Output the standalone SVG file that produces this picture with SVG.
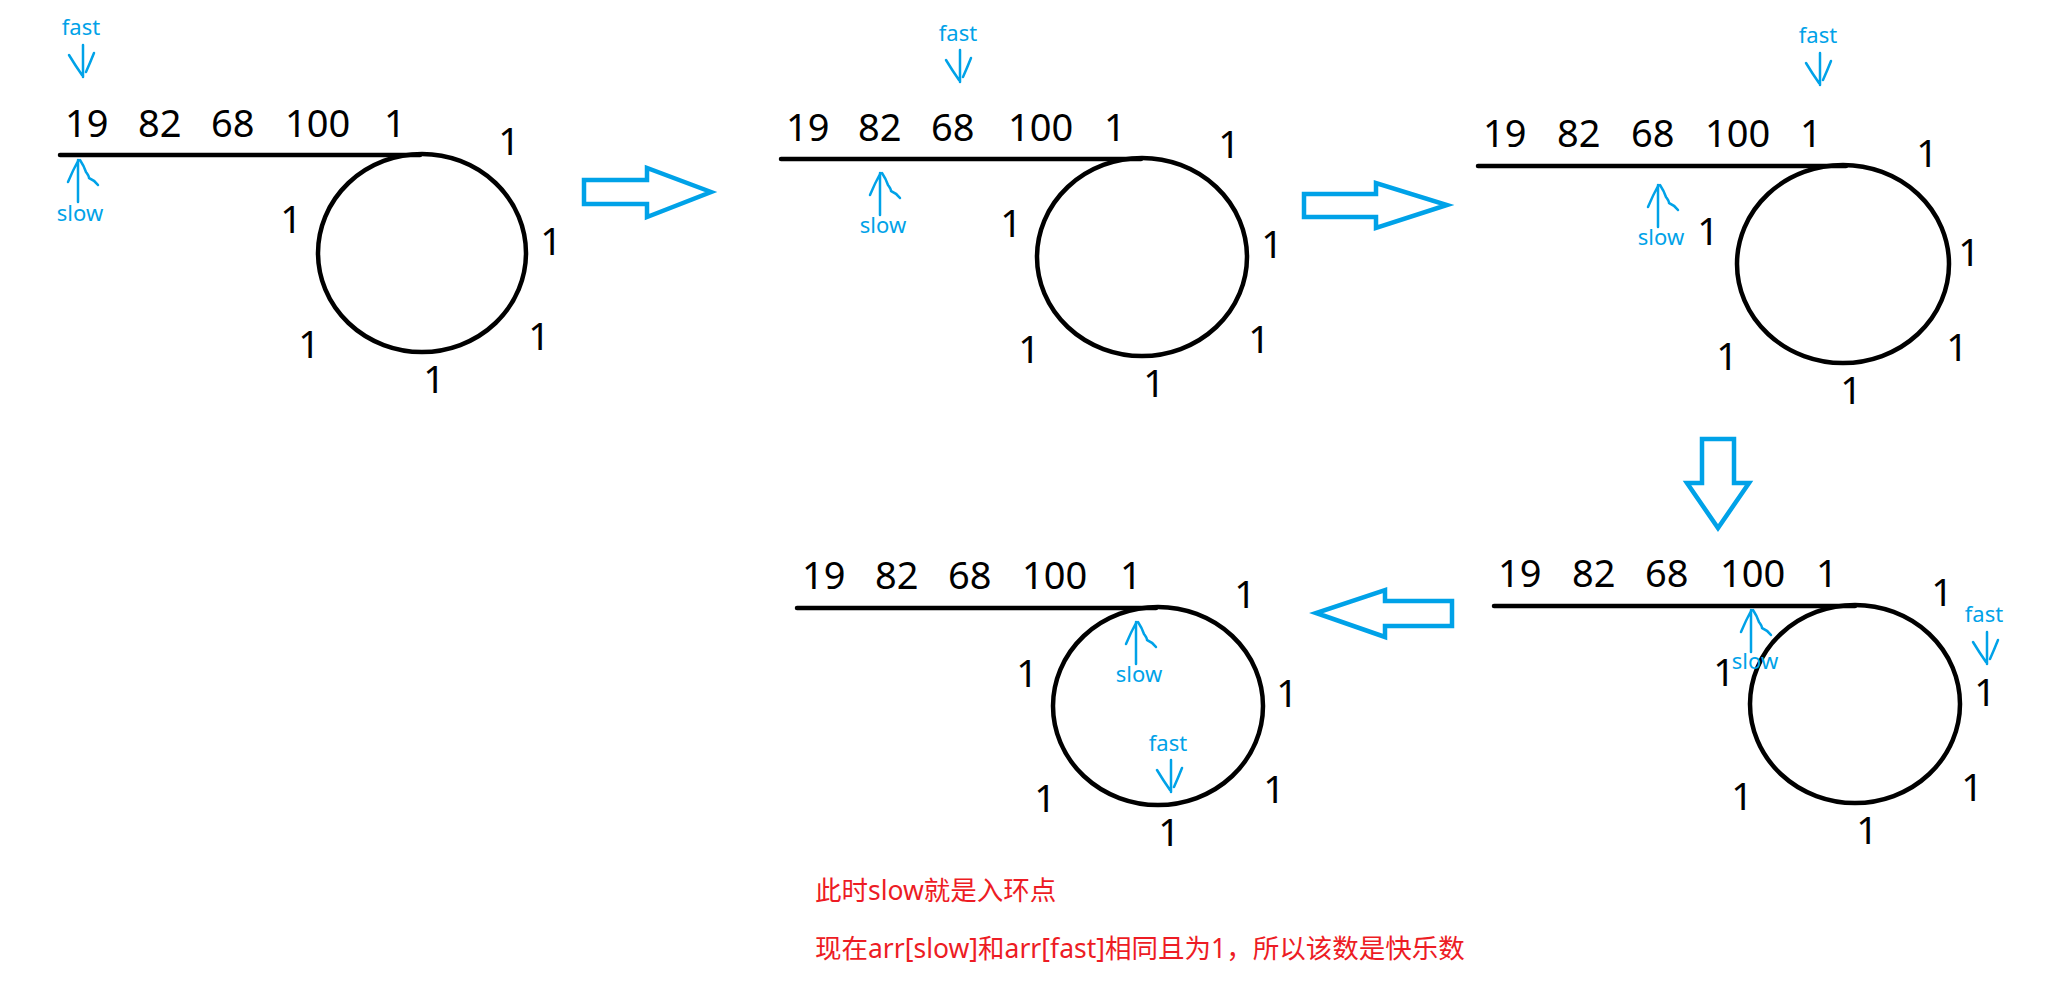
<svg xmlns="http://www.w3.org/2000/svg" width="2048" height="981" viewBox="0 0 2048 981">
<style>
.num{font-family:"Noto Sans","Open Sans","Liberation Sans",sans-serif;font-size:38px;fill:#000}
.one{font-family:"Noto Sans","Open Sans","Liberation Sans",sans-serif;font-size:38px;fill:#000;text-anchor:middle}
.lbl{font-family:"Noto Sans","Open Sans","Liberation Sans",sans-serif;font-size:22px;fill:#00A2E8;text-anchor:middle}
.red{font-family:"Noto Sans","Noto Sans CJK SC",sans-serif;font-size:26.5px;fill:#ED1C24}
.track{stroke:#000;stroke-width:4.5;stroke-linecap:round;fill:none}
.loop{stroke:#000;stroke-width:4.5;fill:none}
.ptr{stroke:#00A2E8;stroke-width:2.5;fill:none;stroke-linecap:round;stroke-linejoin:round}
.blk{stroke:#00A2E8;stroke-width:4.5;fill:none;stroke-linejoin:miter}
</style>
<defs>
<path id="fastArrow" class="ptr" d="M0,0 L0,32 M-14,10 Q-8,20 -1,30 M11,8 Q7,18 3,27"/>
<path id="slowArrow" class="ptr" d="M0,42 L0,0 M-10,22 Q-5,10 0,1 M2,0 Q6,6 8,12 Q11,16 11,18 Q16,20 20,25"/>
</defs>
<rect width="2048" height="981" fill="#fff"/>

<g id="connectors">
<polygon class="blk" points="584,180 647,180 647,168 711,192 647,217 647,204 584,204"/>
<polygon class="blk" points="1304,194 1376,194 1376,183 1447,205 1376,228 1376,217 1304,217"/>
<polygon class="blk" points="1702,439 1734,439 1734,483 1749,483 1718,528 1687,483 1702,483"/>
<polygon class="blk" points="1452,601 1385,601 1385,590 1316,613 1385,637 1385,626 1452,626"/>
</g>

<g id="panel1">
<line class="track" x1="60" y1="155" x2="420" y2="155"/>
<ellipse class="loop" cx="422" cy="253" rx="104" ry="99"/>
<text class="num" x="65" y="137">19</text>
<text class="num" x="138" y="137">82</text>
<text class="num" x="211" y="137">68</text>
<text class="num" x="285" y="137">100</text>
<text class="num" x="384" y="137">1</text>
<text class="one" x="509" y="155">1</text>
<text class="one" x="291" y="233">1</text>
<text class="one" x="551" y="255">1</text>
<text class="one" x="309" y="358">1</text>
<text class="one" x="539" y="350">1</text>
<text class="one" x="434" y="393">1</text>
<text class="lbl" x="81" y="35">fast</text>
<use href="#fastArrow" x="83" y="45"/>
<use href="#slowArrow" x="78" y="160"/>
<text class="lbl" x="80" y="221">slow</text>
</g>

<g id="panel2">
<line class="track" x1="781" y1="159" x2="1141" y2="159"/>
<ellipse class="loop" cx="1142" cy="257" rx="105" ry="99"/>
<text class="num" x="786" y="141">19</text>
<text class="num" x="858" y="141">82</text>
<text class="num" x="931" y="141">68</text>
<text class="num" x="1008" y="141">100</text>
<text class="num" x="1104" y="141">1</text>
<text class="one" x="1229" y="158">1</text>
<text class="one" x="1011" y="237">1</text>
<text class="one" x="1272" y="258">1</text>
<text class="one" x="1029" y="363">1</text>
<text class="one" x="1259" y="353">1</text>
<text class="one" x="1154" y="397">1</text>
<text class="lbl" x="958" y="41">fast</text>
<use href="#fastArrow" x="960" y="50"/>
<use href="#slowArrow" x="880" y="173"/>
<text class="lbl" x="883" y="233">slow</text>
</g>

<g id="panel3">
<line class="track" x1="1478" y1="166" x2="1846" y2="166"/>
<ellipse class="loop" cx="1843" cy="264" rx="106" ry="99"/>
<text class="num" x="1483" y="147">19</text>
<text class="num" x="1557" y="147">82</text>
<text class="num" x="1631" y="147">68</text>
<text class="num" x="1705" y="147">100</text>
<text class="num" x="1800" y="147">1</text>
<text class="one" x="1927" y="167">1</text>
<text class="one" x="1708" y="245">1</text>
<text class="one" x="1969" y="266">1</text>
<text class="one" x="1727" y="370">1</text>
<text class="one" x="1957" y="361">1</text>
<text class="one" x="1851" y="404">1</text>
<text class="lbl" x="1818" y="43">fast</text>
<use href="#fastArrow" x="1820" y="53"/>
<use href="#slowArrow" x="1658" y="185"/>
<text class="lbl" x="1661" y="245">slow</text>
</g>

<g id="panel4">
<line class="track" x1="1494" y1="606" x2="1855" y2="606"/>
<ellipse class="loop" cx="1855" cy="704" rx="105" ry="99"/>
<text class="num" x="1498" y="587">19</text>
<text class="num" x="1572" y="587">82</text>
<text class="num" x="1645" y="587">68</text>
<text class="num" x="1720" y="587">100</text>
<text class="num" x="1816" y="587">1</text>
<text class="one" x="1942" y="606">1</text>
<text class="one" x="1724" y="686">1</text>
<text class="one" x="1985" y="706">1</text>
<text class="one" x="1742" y="810">1</text>
<text class="one" x="1972" y="801">1</text>
<text class="one" x="1867" y="844">1</text>
<use href="#slowArrow" x="1751" y="610"/>
<text class="lbl" x="1755" y="669">slow</text>
<text class="lbl" x="1984" y="622">fast</text>
<use href="#fastArrow" x="1987" y="632"/>
</g>

<g id="panel5">
<line class="track" x1="797" y1="608" x2="1156" y2="608"/>
<ellipse class="loop" cx="1158" cy="706" rx="105" ry="99"/>
<text class="num" x="802" y="589">19</text>
<text class="num" x="875" y="589">82</text>
<text class="num" x="948" y="589">68</text>
<text class="num" x="1022" y="589">100</text>
<text class="num" x="1120" y="589">1</text>
<text class="one" x="1245" y="608">1</text>
<text class="one" x="1027" y="687">1</text>
<text class="one" x="1287" y="707">1</text>
<text class="one" x="1045" y="812">1</text>
<text class="one" x="1274" y="803">1</text>
<text class="one" x="1169" y="846">1</text>
<use href="#slowArrow" x="1136" y="622"/>
<text class="lbl" x="1139" y="682">slow</text>
<text class="lbl" x="1168" y="751">fast</text>
<use href="#fastArrow" x="1171" y="760"/>
</g>

<g id="note">
<text class="red" x="815" y="900">此时slow就是入环点</text>
<text class="red" x="815" y="958">现在arr[slow]和arr[fast]相同且为1，所以该数是快乐数</text>
</g>
</svg>
